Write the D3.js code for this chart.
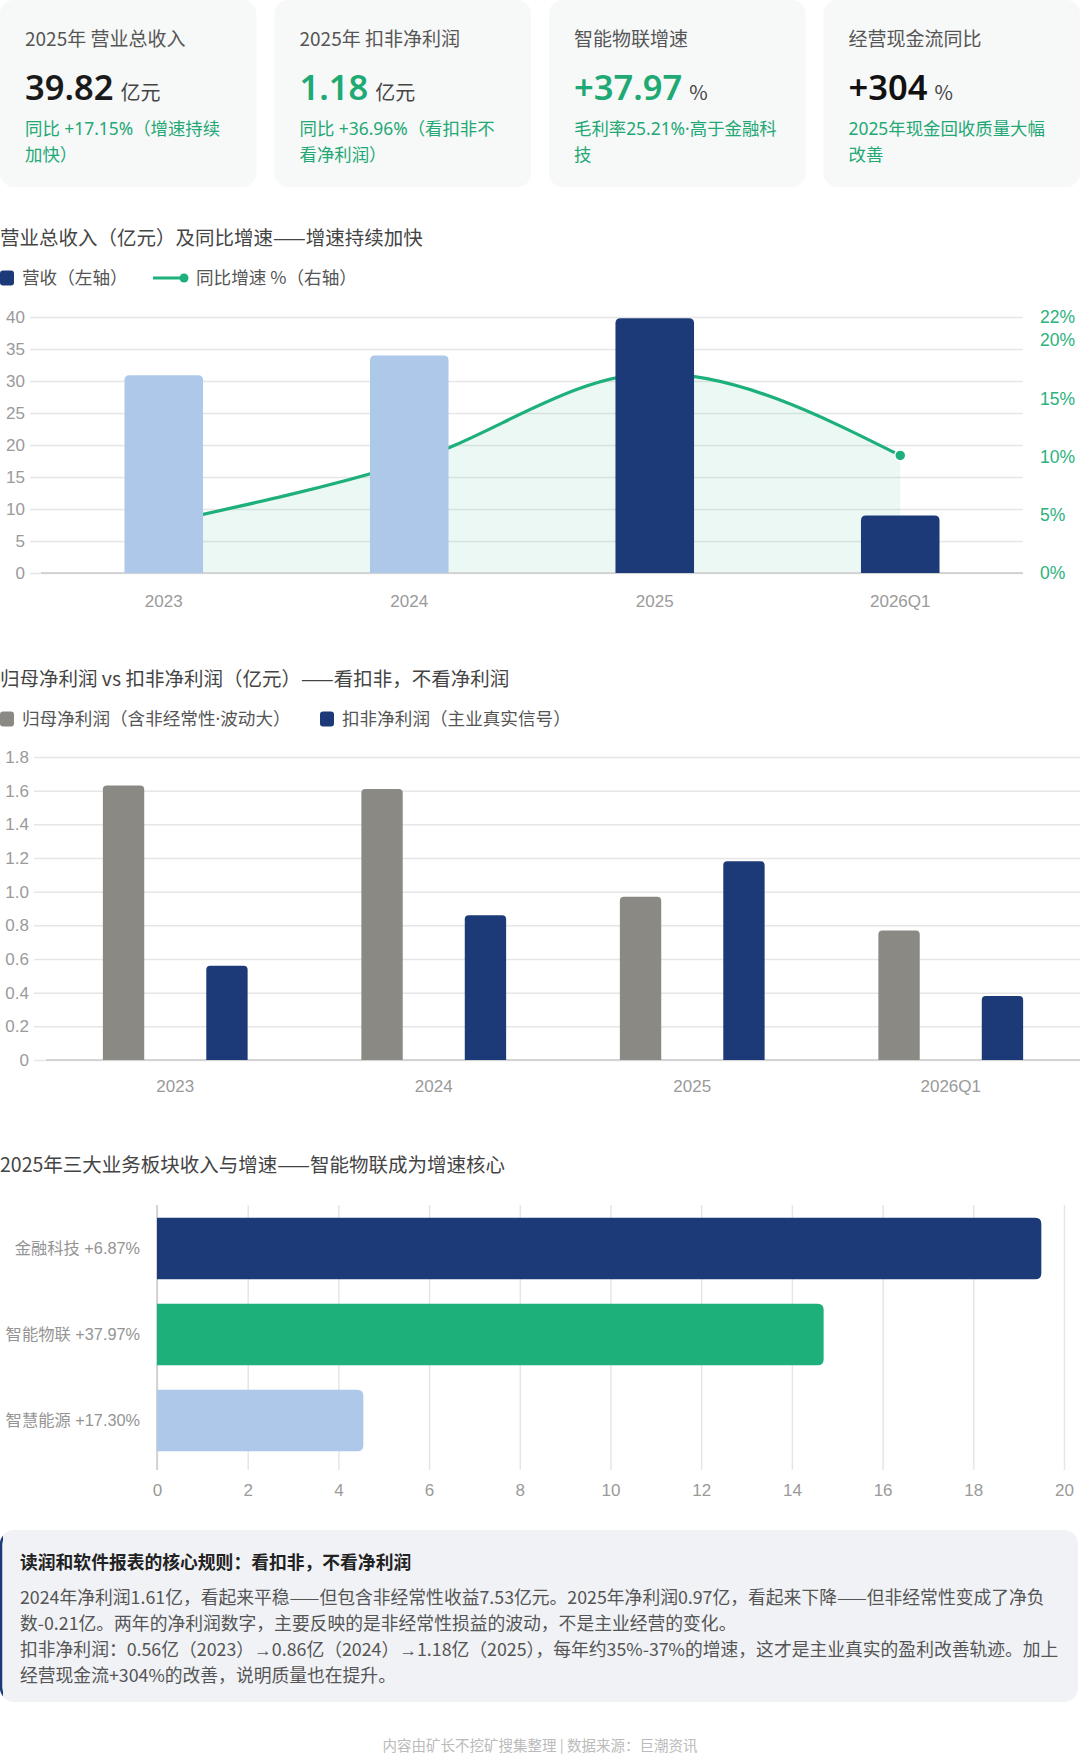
<!DOCTYPE html>
<html>
<head>
<meta charset="utf-8">
<script src="https://cdn.jsdelivr.net/npm/d3@7"></script>
<style>
  body { margin: 0; background: #fff; }
  svg { display: block; }
</style>
</head>
<body>
<div id="chart"></div>
<script>
// KPI cards
var kpiTitles = ["2025年 营业总收入", "2025年 扣非净利润", "智能物联增速", "经营现金流同比"];
var kpiValues = ["39.82", "1.18", "+37.97", "+304"];
var kpiUnits = ["亿元", "亿元", "%", "%"];
var kpiNotes = [
    ["同比 +17.15%（增速持续", "加快）"],
    ["同比 +36.96%（看扣非不", "看净利润）"],
    ["毛利率25.21%·高于金融科", "技"],
    ["2025年现金回收质量大幅", "改善"]
];

// chart 1: revenue + yoy growth
var years = ["2023", "2024", "2025", "2026Q1"];
var revenue = [30.9, 34.0, 39.82, 9.0];
var revenueGrowth = [4.3, 9.5, 17.15, 10.1];
var revenueTicks = [0, 5, 10, 15, 20, 25, 30, 35, 40];
var growthTicks = [0, 5, 10, 15, 20, 22];

// chart 2: net profit vs deducted net profit
var profitSeries = ["归母净利润（含非经常性·波动大）", "扣非净利润（主业真实信号）"];
var netProfit = [1.63, 1.61, 0.97, 0.77];
var deductedProfit = [0.56, 0.86, 1.18, 0.38];
var profitTicks = [0, 0.2, 0.4, 0.6, 0.8, 1.0, 1.2, 1.4, 1.6, 1.8];

// chart 3: 2025 segment revenue
var segments = ["金融科技 +6.87%", "智能物联 +37.97%", "智慧能源 +17.30%"];
var segmentRevenue = [19.5, 14.7, 4.55];
var segmentTicks = [0, 2, 4, 6, 8, 10, 12, 14, 16, 18, 20];

var noteTitle = "读润和软件报表的核心规则：看扣非，不看净利润";
var noteLines = [
    "2024年净利润1.61亿，看起来平稳——但包含非经常性收益7.53亿元。2025年净利润0.97亿，看起来下降——但非经常性变成了净负",
    "数-0.21亿。两年的净利润数字，主要反映的是非经常性损益的波动，不是主业经营的变化。",
    "扣非净利润：0.56亿（2023）→0.86亿（2024）→1.18亿（2025），每年约35%-37%的增速，这才是主业真实的盈利改善轨迹。加上",
    "经营现金流+304%的改善，说明质量也在提升。"
];
var footer = "内容由矿长不挖矿搜集整理 | 数据来源：巨潮资讯";

var W = 1080, H = 1754;
var NAVY = "#1d3a78", GREEN = "#1db07b", LIGHT = "#aec8e9", GRAY = "#8a8983";
var CJK = "'Noto Sans CJK SC', 'Noto Sans', sans-serif";
var LATIN_CJK = "'Noto Sans', 'Noto Sans CJK SC', sans-serif";
var NUM = "'Liberation Sans', Arial, sans-serif";

var svg = d3.select("#chart").append("svg")
    .attr("width", W).attr("height", H)
    .style("font-family", CJK);

// rounded-top bar
function topRounded(x, y, w, h, r) {
    r = Math.min(r, h, w / 2);
    return "M" + x + "," + (y + h) + "V" + (y + r) + "Q" + x + "," + y + " " + (x + r) + "," + y +
        "H" + (x + w - r) + "Q" + (x + w) + "," + y + " " + (x + w) + "," + (y + r) + "V" + (y + h) + "Z";
}
// rounded-right bar
function rightRounded(x, y, w, h, r) {
    r = Math.min(r, w, h / 2);
    return "M" + x + "," + y + "H" + (x + w - r) + "Q" + (x + w) + "," + y + " " + (x + w) + "," + (y + r) +
        "V" + (y + h - r) + "Q" + (x + w) + "," + (y + h) + " " + (x + w - r) + "," + (y + h) + "H" + x + "Z";
}

// ---------- KPI cards ----------
var cardW = (W - 3 * 18) / 4;
var valueColors = ["#1a1a1a", "#1fa974", "#1fa974", "#111"];
var cards = svg.selectAll("g.card")
    .data(kpiTitles)
    .enter()
    .append("g")
    .attr("class", "card")
    .attr("transform", function(d, i) { return "translate(" + (i * (cardW + 18)) + ",0)"; });

cards.append("rect")
    .attr("width", cardW).attr("height", 187)
    .attr("rx", 14)
    .attr("fill", "#f7f8f8");

cards.append("text")
    .attr("x", 25).attr("y", 46)
    .attr("font-size", 19).attr("fill", "#555")
    .text(function(d) { return d; });

var val = cards.append("text")
    .attr("x", 25).attr("y", 100);
val.append("tspan")
    .attr("font-family", "'Noto Sans', sans-serif")
    .attr("font-weight", 600).attr("font-size", 34.5)
    .attr("fill", function(d, i) { return valueColors[i]; })
    .text(function(d, i) { return kpiValues[i]; });
val.append("tspan")
    .attr("dx", 7).attr("font-size", 20).attr("fill", "#444")
    .text(function(d, i) { return kpiUnits[i]; });

cards.each(function(d, i) {
    d3.select(this).selectAll("text.note")
        .data(kpiNotes[i])
        .enter()
        .append("text")
        .attr("class", "note")
        .attr("x", 25)
        .attr("y", function(l, j) { return 135 + j * 26; })
        .attr("font-family", LATIN_CJK)
        .attr("font-size", 17.4).attr("fill", "#22a874")
        .text(function(l) { return l; });
});

// ---------- chart 1 ----------
svg.append("text")
    .attr("x", 0).attr("y", 245)
    .attr("font-size", 19.5).attr("fill", "#444")
    .text("营业总收入（亿元）及同比增速——增速持续加快");

var lg1 = svg.append("g").attr("transform", "translate(0,278)");
lg1.append("rect").attr("x", 0).attr("y", -7.5).attr("width", 14).attr("height", 15).attr("rx", 3).attr("fill", NAVY);
lg1.append("text").attr("x", 22).attr("y", 6).attr("font-size", 17.6).attr("fill", "#555").text("营收（左轴）");
lg1.append("line").attr("x1", 153).attr("x2", 183).attr("y1", 0).attr("y2", 0).attr("stroke", GREEN).attr("stroke-width", 3);
lg1.append("circle").attr("cx", 184).attr("cy", 0).attr("r", 4.5).attr("fill", GREEN);
lg1.append("text").attr("x", 196).attr("y", 6).attr("font-size", 17.6).attr("fill", "#555").text("同比增速 %（右轴）");

var x1 = d3.scaleBand().domain(years).range([41, 1023]).paddingInner(0.68).paddingOuter(0.34);
var y1 = d3.scaleLinear().domain([0, 40]).range([573, 317]);
var y1r = d3.scaleLinear().domain([0, 22]).range([573, 317]);

var g1 = svg.append("g");
var yAxis1 = g1.append("g")
    .attr("transform", "translate(30,0)")
    .call(d3.axisLeft(y1).tickValues(revenueTicks).tickSize(-(1023 - 30)).tickPadding(5));
yAxis1.select(".domain").remove();
yAxis1.selectAll("line").attr("stroke", "#e6e6e6").attr("stroke-width", 1.5);
yAxis1.selectAll("text").attr("font-family", NUM).attr("font-size", 17).attr("fill", "#9a9a9a");

var yAxis1r = g1.append("g")
    .attr("transform", "translate(1023,0)")
    .call(d3.axisRight(y1r).tickValues(growthTicks).tickSize(0).tickPadding(17).tickFormat(function(d) { return d + "%"; }));
yAxis1r.select(".domain").remove();
yAxis1r.selectAll("text").attr("font-family", NUM).attr("font-size", 17.5).attr("fill", "#2ab27c");

var cx1 = function(d, i) { return x1(years[i]) + x1.bandwidth() / 2; };
var area1 = d3.area()
    .x(cx1)
    .y0(y1r(0))
    .y1(function(d) { return y1r(d); })
    .curve(d3.curveMonotoneX);
var line1 = d3.line()
    .x(cx1)
    .y(function(d) { return y1r(d); })
    .curve(d3.curveMonotoneX);

g1.append("path").datum(revenueGrowth).attr("d", area1).attr("fill", GREEN).attr("fill-opacity", 0.09);
g1.append("path").datum(revenueGrowth).attr("d", line1).attr("fill", "none").attr("stroke", GREEN).attr("stroke-width", 3.2);
g1.selectAll("circle.pt")
    .data(revenueGrowth)
    .enter()
    .append("circle")
    .attr("class", "pt")
    .attr("cx", cx1)
    .attr("cy", function(d) { return y1r(d); })
    .attr("r", 5.5)
    .attr("fill", GREEN)
    .attr("stroke", "#fff").attr("stroke-width", 1.5);

g1.append("line").attr("x1", 41).attr("x2", 1023).attr("y1", y1(0)).attr("y2", y1(0))
    .attr("stroke", "#d4d4d4").attr("stroke-width", 2);

g1.selectAll("path.bar")
    .data(revenue)
    .enter()
    .append("path")
    .attr("class", "bar")
    .attr("d", function(d, i) {
        return topRounded(x1(years[i]), y1(d), x1.bandwidth(), y1(0) - y1(d), 5);
    })
    .attr("fill", function(d, i) { return i < 2 ? LIGHT : NAVY; });

var xAxis1 = g1.append("g")
    .attr("transform", "translate(0," + y1(0) + ")")
    .call(d3.axisBottom(x1).tickSize(0).tickPadding(22));
xAxis1.select(".domain").remove();
xAxis1.selectAll("text").attr("font-family", NUM).attr("font-size", 17).attr("fill", "#9a9a9a");

// ---------- chart 2 ----------
svg.append("text")
    .attr("x", 0).attr("y", 686)
    .attr("font-size", 19.5).attr("fill", "#444")
    .text("归母净利润 vs 扣非净利润（亿元）——看扣非，不看净利润");

var profitColors = [GRAY, NAVY];
var lg2 = svg.append("g").attr("transform", "translate(0,719)");
var lgX = [0, 320];
profitSeries.forEach(function(s, i) {
    lg2.append("rect").attr("x", lgX[i]).attr("y", -7.5).attr("width", 14).attr("height", 15).attr("rx", 3).attr("fill", profitColors[i]);
    lg2.append("text").attr("x", lgX[i] + 22).attr("y", 6)
        .attr("font-family", LATIN_CJK)
        .attr("font-size", 17.6).attr("fill", "#555").text(s);
});

var x2 = d3.scaleBand().domain(years).range([46, 1080]);
var x2in = d3.scaleBand().domain([0, 1]).range([0, x2.bandwidth()]).paddingInner(0.6).paddingOuter(0.55);
var y2 = d3.scaleLinear().domain([0, 1.8]).range([1060, 757]);

var g2 = svg.append("g");
var yAxis2 = g2.append("g")
    .attr("transform", "translate(34,0)")
    .call(d3.axisLeft(y2).tickValues(profitTicks).tickSize(-(1080 - 34)).tickPadding(5)
        .tickFormat(function(d) { return d === 0 ? "0" : d3.format(".1f")(d); }));
yAxis2.select(".domain").remove();
yAxis2.selectAll("line").attr("stroke", "#e6e6e6").attr("stroke-width", 1.5);
yAxis2.selectAll("text").attr("font-family", NUM).attr("font-size", 17).attr("fill", "#9a9a9a");

g2.append("line").attr("x1", 46).attr("x2", 1080).attr("y1", y2(0)).attr("y2", y2(0))
    .attr("stroke", "#d4d4d4").attr("stroke-width", 2);

[netProfit, deductedProfit].forEach(function(series, s) {
    g2.selectAll("path.bar" + s)
        .data(series)
        .enter()
        .append("path")
        .attr("class", "bar" + s)
        .attr("d", function(d, i) {
            return topRounded(x2(years[i]) + x2in(s), y2(d), x2in.bandwidth(), y2(0) - y2(d), 4);
        })
        .attr("fill", profitColors[s]);
});

var xAxis2 = g2.append("g")
    .attr("transform", "translate(0," + y2(0) + ")")
    .call(d3.axisBottom(x2).tickSize(0).tickPadding(20));
xAxis2.select(".domain").remove();
xAxis2.selectAll("text").attr("font-family", NUM).attr("font-size", 17).attr("fill", "#9a9a9a");

// ---------- chart 3 ----------
svg.append("text")
    .attr("x", 0).attr("y", 1172)
    .attr("font-size", 19.5).attr("fill", "#444")
    .text("2025年三大业务板块收入与增速——智能物联成为增速核心");

var x3 = d3.scaleLinear().domain([0, 20]).range([157, 1064]);
var y3 = d3.scaleBand().domain(segments).range([1205, 1464]).paddingInner(0.285).paddingOuter(0.147);
var segColors = [NAVY, GREEN, LIGHT];

var g3 = svg.append("g");
var xAxis3 = g3.append("g")
    .attr("transform", "translate(0,1470)")
    .call(d3.axisBottom(x3).tickValues(segmentTicks).tickSize(-(1470 - 1205)).tickPadding(14));
xAxis3.select(".domain").remove();
xAxis3.selectAll("line").attr("stroke", "#e6e6e6").attr("stroke-width", 1.5);
xAxis3.selectAll("text").attr("font-family", NUM).attr("font-size", 17).attr("fill", "#9a9a9a");

g3.append("line").attr("x1", x3(0)).attr("x2", x3(0)).attr("y1", 1205).attr("y2", 1470)
    .attr("stroke", "#d4d4d4").attr("stroke-width", 2);

g3.selectAll("path.hbar")
    .data(segmentRevenue)
    .enter()
    .append("path")
    .attr("class", "hbar")
    .attr("d", function(d, i) {
        return rightRounded(x3(0), y3(segments[i]), x3(d) - x3(0), y3.bandwidth(), 6);
    })
    .attr("fill", function(d, i) { return segColors[i]; });

var yAxis3 = g3.append("g")
    .attr("transform", "translate(" + x3(0) + ",0)")
    .call(d3.axisLeft(y3).tickSize(0).tickPadding(17));
yAxis3.select(".domain").remove();
yAxis3.selectAll("text")
    .attr("font-family", "'Liberation Sans', 'Noto Sans CJK SC', sans-serif")
    .attr("font-size", 16.3).attr("fill", "#949494");

// ---------- note box ----------
var defs = svg.append("defs");
defs.append("clipPath").attr("id", "leftEdge")
    .append("rect").attr("x", 0).attr("y", 1520).attr("width", 3).attr("height", 200);

svg.append("rect")
    .attr("x", 0).attr("y", 1530).attr("width", W - 2).attr("height", 172)
    .attr("rx", 14).attr("fill", "#f0f2f6");
svg.append("rect")
    .attr("x", 1).attr("y", 1531).attr("width", W - 4).attr("height", 170)
    .attr("rx", 14).attr("fill", "none").attr("stroke", NAVY).attr("stroke-width", 2.5)
    .attr("clip-path", "url(#leftEdge)");

svg.append("text")
    .attr("x", 20).attr("y", 1569)
    .attr("font-size", 17.8).attr("font-weight", 700).attr("fill", "#222")
    .text(noteTitle);

// body lines: CJK font, but the arrows come from the narrower latin font
var bodyText = svg.selectAll("text.body")
    .data(noteLines)
    .enter()
    .append("text")
    .attr("class", "body")
    .attr("x", 20)
    .attr("y", function(d, i) { return 1604 + i * 26; })
    .attr("font-size", 17.8).attr("fill", "#555");

bodyText.each(function(d) {
    var t = d3.select(this);
    d.split("→").forEach(function(part, k) {
        if (k > 0) t.append("tspan").attr("font-family", "'Noto Sans', sans-serif").text("→");
        t.append("tspan").text(part);
    });
});

svg.append("text")
    .attr("x", 540).attr("y", 1751)
    .attr("text-anchor", "middle")
    .attr("font-size", 14.5).attr("fill", "#bbb")
    .text(footer);
</script>
</body>
</html>
